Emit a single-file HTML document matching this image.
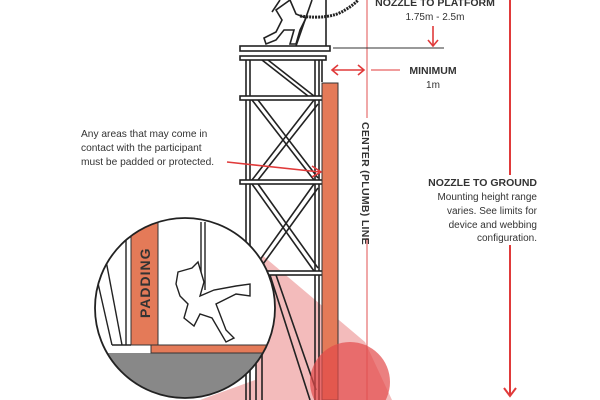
<!DOCTYPE html>
<html><head><style>
html,body{margin:0;padding:0;background:#fff;width:600px;height:400px;overflow:hidden}
svg{display:block}
text{font-family:"Liberation Sans",sans-serif;fill:#333}
</style></head><body>
<svg width="600" height="400" viewBox="0 0 600 400">
<defs>
<clipPath id="cc"><circle cx="185" cy="308" r="90"/></clipPath>
</defs>
<!-- light cone -->
<polygon points="262,255 365,342 392,400 200,400 255,380" fill="#f2b4b4" opacity="0.9"/>
<!-- tower -->
<g stroke="#222" stroke-width="1.6" fill="none">
<rect x="240" y="46" width="90" height="5" fill="#fff"/>
<rect x="240" y="56" width="86" height="4" fill="#fff"/>
<line x1="246" y1="60" x2="246" y2="400"/><line x1="250" y1="60" x2="250" y2="400"/>
<line x1="315" y1="60" x2="315" y2="400"/><line x1="319" y1="60" x2="319" y2="400"/>
<rect x="240" y="96" width="84" height="4" fill="#fff"/>
<rect x="240" y="180" width="84" height="4" fill="#fff"/>
<rect x="240" y="271" width="84" height="4" fill="#fff"/>
<line x1="262" y1="60" x2="308" y2="96"/><line x1="268" y1="60" x2="314" y2="96"/>
<line x1="252" y1="100" x2="314" y2="180"/><line x1="258" y1="100" x2="318" y2="178"/>
<line x1="314" y1="100" x2="252" y2="180"/><line x1="318" y1="104" x2="258" y2="180"/>
<line x1="252" y1="184" x2="314" y2="271"/><line x1="258" y1="184" x2="318" y2="268"/>
<line x1="314" y1="184" x2="252" y2="271"/><line x1="318" y1="188" x2="258" y2="271"/>
<line x1="256" y1="275" x2="256" y2="400"/><line x1="262" y1="275" x2="262" y2="400"/>
<line x1="270" y1="275" x2="310" y2="400"/><line x1="276" y1="275" x2="316" y2="390"/>
<line x1="326" y1="0" x2="326" y2="46"/><line x1="322" y1="60" x2="322" y2="82"/>
</g>
<!-- padding column -->
<rect x="322" y="83" width="16" height="317" fill="#e47a58" stroke="#333" stroke-width="1"/>
<circle cx="350" cy="382" r="40" fill="#e24a4a" opacity="0.7"/>
<!-- worker -->
<g stroke="#222" stroke-width="1.6" fill="#fff">
<path d="M272,12 L280,0 M290,0 L296,14 L306,18 L300,30 L296,44 L290,44 L294,30 L284,30 L276,40 L266,44 L264,38 L276,32 L282,20 L276,10 Z"/>
<path d="M300,16 Q330,20 345,10 Q355,4 358,0" fill="none" stroke-width="3" stroke-dasharray="2,1"/>
<line x1="296" y1="46" x2="312" y2="0"/>
</g>
<!-- center line -->
<line x1="367" y1="0" x2="367" y2="118" stroke="#e05050" stroke-width="1"/>
<line x1="367" y1="238" x2="367" y2="400" stroke="#e05050" stroke-width="1"/>
<text transform="translate(362,122) rotate(90)" font-size="10.5" font-weight="bold" fill="#333" letter-spacing="0.3">CENTER (PLUMB) LINE</text>
<!-- right line -->
<line x1="510" y1="0" x2="510" y2="175" stroke="#e03a3a" stroke-width="2"/>
<line x1="510" y1="245" x2="510" y2="396" stroke="#e03a3a" stroke-width="2"/>
<polyline points="504,388 510,396 516,388" fill="none" stroke="#e03a3a" stroke-width="2"/>
<!-- top texts -->
<text x="435" y="6" font-size="10.5" font-weight="bold" text-anchor="middle">NOZZLE TO PLATFORM</text>
<text x="435" y="20" font-size="10" text-anchor="middle">1.75m - 2.5m</text>
<line x1="433" y1="26" x2="433" y2="46" stroke="#e03a3a" stroke-width="1.6"/>
<polyline points="428,40 433,46 438,40" fill="none" stroke="#e03a3a" stroke-width="1.6"/>
<line x1="333" y1="48" x2="444" y2="48" stroke="#333" stroke-width="1"/>
<line x1="332" y1="70" x2="364" y2="70" stroke="#e03a3a" stroke-width="1.6"/>
<polyline points="338,65 332,70 338,75" fill="none" stroke="#e03a3a" stroke-width="1.6"/>
<polyline points="358,65 364,70 358,75" fill="none" stroke="#e03a3a" stroke-width="1.6"/>
<line x1="371" y1="70" x2="400" y2="70" stroke="#e03a3a" stroke-width="1"/>
<text x="433" y="74" font-size="10.5" font-weight="bold" text-anchor="middle">MINIMUM</text>
<text x="433" y="88" font-size="10" text-anchor="middle">1m</text>
<!-- left note -->
<text font-size="10.2"><tspan x="81" y="137">Any areas that may come in</tspan><tspan x="81" y="151">contact with the participant</tspan><tspan x="81" y="165">must be padded or protected.</tspan></text>
<line x1="227" y1="162" x2="320" y2="172" stroke="#e03a3a" stroke-width="1.6"/>
<polyline points="312,166 321,172 312,177" fill="none" stroke="#e03a3a" stroke-width="1.6"/>
<!-- nozzle to ground -->
<text x="537" y="186" font-size="10.5" font-weight="bold" text-anchor="end">NOZZLE TO GROUND</text>
<text font-size="10" text-anchor="end"><tspan x="537" y="200">Mounting height range</tspan><tspan x="537" y="214">varies. See limits for</tspan><tspan x="537" y="228">device and webbing</tspan><tspan x="537" y="241">configuration.</tspan></text>
<!-- detail circle -->
<circle cx="185" cy="308" r="90" fill="#fff"/>
<g clip-path="url(#cc)">
<rect x="90" y="353" width="200" height="60" fill="#888"/>
<rect x="151" y="345" width="120" height="8" fill="#e47a58" stroke="#333" stroke-width="1"/>
<rect x="131" y="222" width="27" height="123" fill="#e47a58" stroke="#333" stroke-width="1"/>
<g stroke="#222" stroke-width="1.4">
<line x1="95" y1="270" x2="112" y2="345"/><line x1="104" y1="250" x2="122" y2="345"/>
<line x1="126" y1="230" x2="126" y2="345"/><line x1="112" y1="345" x2="131" y2="345"/>
<line x1="201" y1="222" x2="201" y2="290"/><line x1="205" y1="222" x2="205" y2="290"/>
</g>
<path d="M178,272 L192,268 L198,262 L204,282 L200,296 L214,290 L236,286 L250,284 L250,296 L236,294 L216,304 L226,330 L234,338 L226,342 L212,318 L200,314 L194,326 L184,318 L188,304 L180,296 L176,284 Z" fill="#fff" stroke="#222" stroke-width="1.4"/>
</g>
<circle cx="185" cy="308" r="90" fill="none" stroke="#222" stroke-width="1.8"/>
<text transform="translate(150,318) rotate(-90)" font-size="14" font-weight="bold" fill="#333" letter-spacing="1">PADDING</text>
</svg>
</body></html>
